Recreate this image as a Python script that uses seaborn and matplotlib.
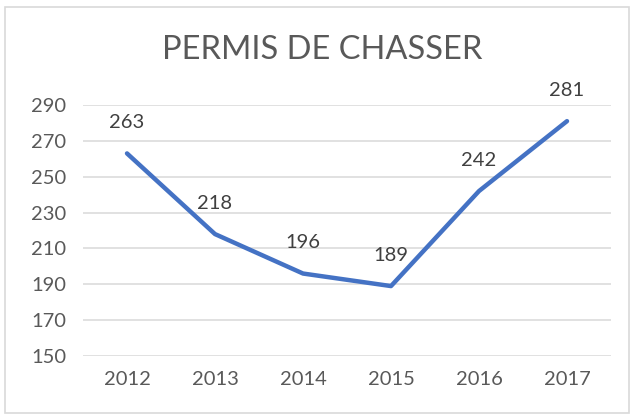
import matplotlib
matplotlib.use("Agg")
import matplotlib.pyplot as plt
import seaborn as sns
import pandas as pd
from matplotlib.patches import Rectangle

years = ["2012", "2013", "2014", "2015", "2016", "2017"]
permis = [263, 218, 196, 189, 242, 281]
yticks = [150, 170, 190, 210, 230, 250, 270, 290]

sns.set_theme(style="white")
plt.rcParams['font.family'] = ['Lato', 'DejaVu Sans']

df = pd.DataFrame({"year": years, "value": permis})

fig = plt.figure(figsize=(6.35, 4.16), dpi=100)
ax = fig.add_axes([83/635, 1-356/416, 528/635, 251/416])

sns.lineplot(data=df, x="year", y="value", ax=ax, color="#4472C4", linewidth=3.2, sort=False)

ax.set_ylim(150, 290)
ax.set_xlim(-0.5, 5.5)
ax.set_yticks(yticks)
ax.set_yticklabels([str(t) for t in yticks])
ax.yaxis.grid(True, color="#D9D9D9", linewidth=1.1)
ax.xaxis.grid(False)
for s in ax.spines.values():
    s.set_visible(False)
ax.tick_params(axis="both", length=0, labelsize=14.5, colors="#595959")
ax.tick_params(axis="y", pad=12)
ax.tick_params(axis="x", pad=11)
ax.set_xlabel("")
ax.set_ylabel("")

for i, v in enumerate(permis):
    ax.annotate(str(v), (i, v), xytext=(0, 22), textcoords="offset points",
                ha="center", va="center", fontsize=14.5, color="#404040")

fig.text(322/635, 1-50/416, "PERMIS DE CHASSER", ha="center", va="center",
         fontsize=23.5, color="#595959")

fig.patches.append(Rectangle((5/635, 3/416), 624/635, 406/416, transform=fig.transFigure,
                             fill=False, edgecolor="#D9D9D9", linewidth=1.2))

fig.savefig("out.png", dpi=100)
